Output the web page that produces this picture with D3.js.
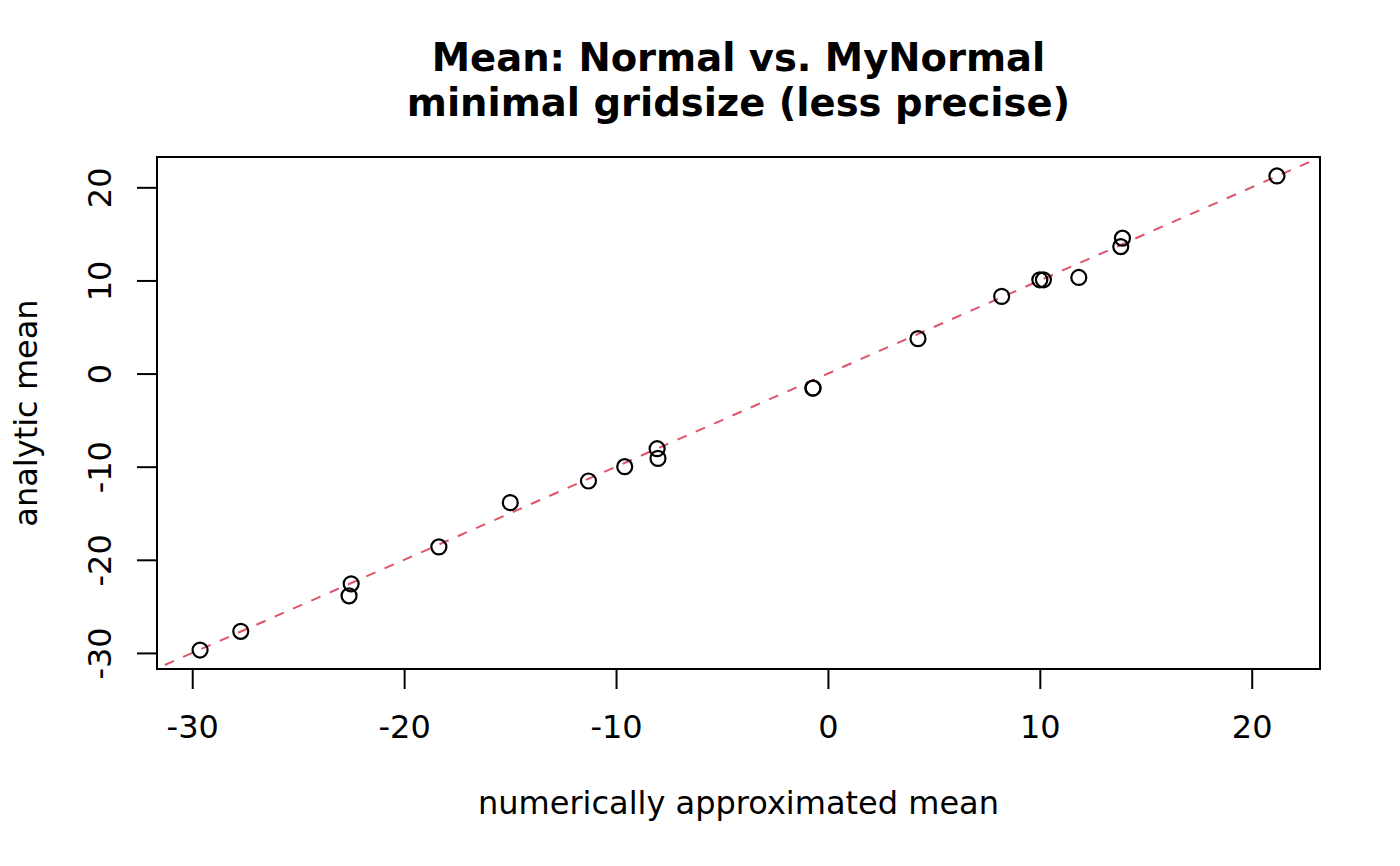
<!DOCTYPE html>
<html>
<head>
<meta charset="utf-8">
<script src="https://cdn.jsdelivr.net/npm/d3@7"></script>
<style>
  html, body { margin: 0; padding: 0; background: #fff; }
  svg { display: block; font-family: "DejaVu Sans", sans-serif; }
</style>
</head>
<body>
<div id="chart"></div>
<script>
// values
var numericMean = [-29.63, -27.71, -22.50, -22.60, -18.36, -14.99, -11.30, -9.59, -8.06, -8.02,
  -0.71, -0.70, 4.25, 8.20, 10.00, 10.17, 11.84, 13.82, 13.90, 21.19];
var analyticMean = [-29.69, -27.68, -22.58, -23.87, -18.62, -13.86, -11.54, -10.00, -8.07, -9.11,
  -1.57, -1.55, 3.75, 8.29, 10.07, 10.07, 10.32, 13.64, 14.54, 21.22];
var xTicks = [-30, -20, -10, 0, 10, 20];
var yTicks = [-30, -20, -10, 0, 10, 20];
var titleLines = ["Mean: Normal vs. MyNormal", "minimal gridsize (less precise)"];
var xLabel = "numerically approximated mean";
var yLabel = "analytic mean";

var W = 1400, H = 866;
var box = { left: 157, right: 1320, top: 157, bottom: 669 };

// R style range: data extent padded by 4% on each side
function padded(vals) {
  var e = d3.extent(vals), r = e[1] - e[0];
  return [e[0] - 0.04 * r, e[1] + 0.04 * r];
}
// plain hyphen minus like R
var fmt = function (d) { return String(d); };

var x = d3.scaleLinear().domain(padded(numericMean)).range([box.left, box.right]);
var y = d3.scaleLinear().domain(padded(analyticMean)).range([box.bottom, box.top]);

var svg = d3.select("#chart").append("svg")
  .attr("width", W)
  .attr("height", H);

svg.append("rect").attr("width", W).attr("height", H).attr("fill", "#fff");

svg.append("clipPath").attr("id", "plotclip")
  .append("rect")
  .attr("x", box.left).attr("y", box.top)
  .attr("width", box.right - box.left).attr("height", box.bottom - box.top);

// y = x reference line
var xd = x.domain();
var lineData = [[xd[0] - 10, xd[0] - 10], [xd[1] + 10, xd[1] + 10]];
svg.append("path")
  .attr("clip-path", "url(#plotclip)")
  .attr("d", d3.line().x(function (d) { return x(d[0]); }).y(function (d) { return y(d[1]); })(lineData))
  .attr("fill", "none")
  .attr("stroke", "#DF536B")
  .attr("stroke-width", 2)
  .attr("stroke-dasharray", "10,10");

// points
svg.append("g").selectAll("circle")
  .data(numericMean)
  .enter().append("circle")
  .attr("cx", function (d) { return x(d); })
  .attr("cy", function (d, i) { return y(analyticMean[i]); })
  .attr("r", 7.5)
  .attr("fill", "none")
  .attr("stroke", "#000")
  .attr("stroke-width", 2.2);

// x axis
var gx = svg.append("g")
  .attr("transform", "translate(0," + box.bottom + ")")
  .call(d3.axisBottom(x).tickValues(xTicks).tickSize(20).tickFormat(fmt));
gx.select(".domain").remove();
gx.selectAll(".tick line").attr("stroke", "#000").attr("stroke-width", 2);
gx.selectAll(".tick text")
  .attr("y", 69).attr("dy", 0)
  .attr("fill", "#000")
  .style("font-size", "32px")
  .style("font-family", "DejaVu Sans");

// y axis
var gy = svg.append("g")
  .attr("transform", "translate(" + box.left + ",0)")
  .call(d3.axisLeft(y).tickValues(yTicks).tickSize(20).tickFormat(fmt));
gy.select(".domain").remove();
gy.selectAll(".tick line").attr("stroke", "#000").attr("stroke-width", 2);
gy.selectAll(".tick text")
  .attr("transform", "rotate(-90)")
  .attr("x", 0).attr("y", -46).attr("dy", 0)
  .attr("text-anchor", "middle")
  .attr("fill", "#000")
  .style("font-size", "32px")
  .style("font-family", "DejaVu Sans");

// box
svg.append("rect")
  .attr("x", box.left).attr("y", box.top)
  .attr("width", box.right - box.left).attr("height", box.bottom - box.top)
  .attr("fill", "none")
  .attr("stroke", "#000")
  .attr("stroke-width", 2);

// title
svg.selectAll(".title").data(titleLines).enter().append("text")
  .attr("class", "title")
  .attr("x", (box.left + box.right) / 2)
  .attr("y", function (d, i) { return 71 + i * 45; })
  .attr("text-anchor", "middle")
  .style("font-size", "38.5px")
  .style("font-weight", "bold")
  .text(function (d) { return d; });

// axis labels
svg.append("text")
  .attr("x", (box.left + box.right) / 2)
  .attr("y", 814)
  .attr("text-anchor", "middle")
  .style("font-size", "32px")
  .text(xLabel);

svg.append("text")
  .attr("transform", "translate(37," + ((box.top + box.bottom) / 2) + ") rotate(-90)")
  .attr("text-anchor", "middle")
  .style("font-size", "32px")
  .text(yLabel);
</script>
</body>
</html>
